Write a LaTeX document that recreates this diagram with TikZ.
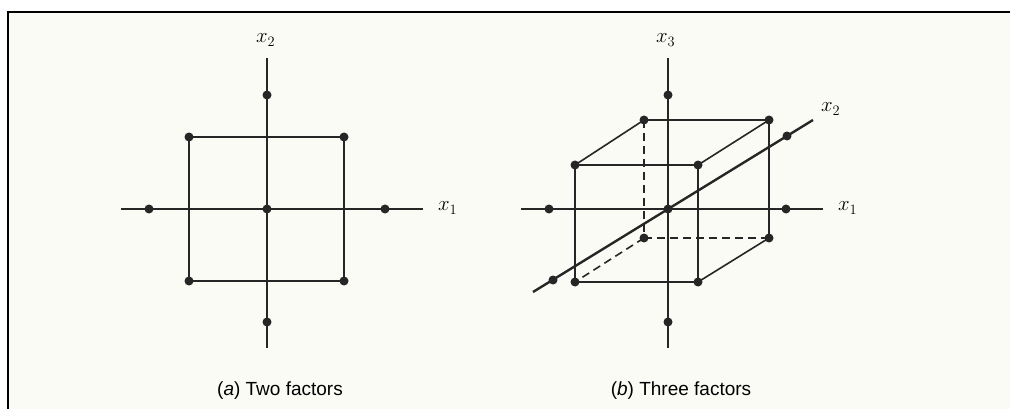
\documentclass[tikz,border=0pt]{standalone}
\usepackage{fontspec}
\setmainfont{Liberation Sans}
\usepackage{amsmath}
\usepackage{tikz}
\definecolor{paper}{RGB}{251,251,246}

\begin{document}
\begin{tikzpicture}[
			x=1pt,y=-1pt,
			dot/.style={circle,fill=black!85,inner sep=0pt,minimum size=9pt},
			axis/.style={line width=2.4pt,draw=black!85},
			edge/.style={line width=1.6pt,draw=black!85},
			hidden/.style={line width=1.6pt,draw=black!85,dash pattern=on 8pt off 5pt},
			lbl/.style={anchor=base west,inner sep=0pt,font=\fontsize{22}{26}\selectfont},
			caption/.style={anchor=base,inner sep=0pt,font=\fontsize{19}{22}\selectfont}
		]

		\useasboundingbox (0,0) rectangle (1010,409);
		\fill[white] (0,0) rectangle (1010,409);
		\fill[paper] (8,12) rectangle (1010,409);
		\draw[line width=1.6pt] (8,409) -- (8,12) -- (1010,12);

		\node[dot] (aC) at (267,209) {};
		\node[dot] (aL) at (149,209) {};
		\node[dot] (aR) at (385,209) {};
		\node[dot] (aT) at (267,95) {};
		\node[dot] (aB) at (267,322) {};
		\node[dot] (a1) at (189,137) {};
		\node[dot] (a2) at (344,137) {};
		\node[dot] (a3) at (344,281) {};
		\node[dot] (a4) at (189,281) {};
		\coordinate (aW) at (121,209);
		\coordinate (aE) at (423,209);
		\coordinate (aN) at (267,58);
		\coordinate (aS) at (267,348);

		\draw[axis] (aW)--(aE);
		\draw[axis] (aN)--(aS);
		\draw[edge] (a1.center)--(a2.center)--(a3.center)--(a4.center)--cycle;

		\node[lbl] (ax1) at (438,211) {$x_1$};
		\node[lbl] (ax2) at (256,43) {$x_2$};
		\node[caption] (acap) at (280,395) {(\textit{a}) Two factors};

		\node[dot] (bC) at (668,209) {};
		\node[dot] (bL) at (549,209) {};
		\node[dot] (bR) at (786,209) {};
		\node[dot] (bT) at (668,95) {};
		\node[dot] (bB) at (668,322) {};
		\node[dot] (bF) at (553,280) {};
		\node[dot] (bK) at (787,136) {};
		\node[dot] (f1) at (575,165) {};
		\node[dot] (f2) at (698,165) {};
		\node[dot] (f3) at (698,282) {};
		\node[dot] (f4) at (575,282) {};
		\node[dot] (b1) at (644,120) {};
		\node[dot] (b2) at (769,120) {};
		\node[dot] (b3) at (769,238) {};
		\node[dot] (b4) at (644,238) {};
		\coordinate (bW) at (521,209);
		\coordinate (bE) at (823,209);
		\coordinate (bN) at (668,58);
		\coordinate (bS) at (668,348);
		\coordinate (bSW) at (533,292);
		\coordinate (bNE) at (813,120);

		\draw[axis] (bW)--(bE);
		\draw[axis] (bN)--(bS);
		\draw[axis] (bSW)--(bNE);

		\draw[edge] (f1.center)--(f2.center)--(f3.center)--(f4.center)--cycle;
		\draw[edge] (b1.center)--(b2.center)--(b3.center);
		\draw[edge] (f1.center)--(b1.center);
		\draw[edge] (f2.center)--(b2.center);
		\draw[edge] (f3.center)--(b3.center);
		\draw[hidden] (b1.center)--(b4.center);
		\draw[hidden] (b4.center)--(b3.center);
		\draw[hidden] (b4.center)--(f4.center);

		\node[lbl] (bx1) at (838,211) {$x_1$};
		\node[lbl] (bx2) at (821,112) {$x_2$};
		\node[lbl] (bx3) at (656,43) {$x_3$};
		\node[caption] (bcap) at (681,395) {(\textit{b}) Three factors};

	\end{tikzpicture}
\end{document}
